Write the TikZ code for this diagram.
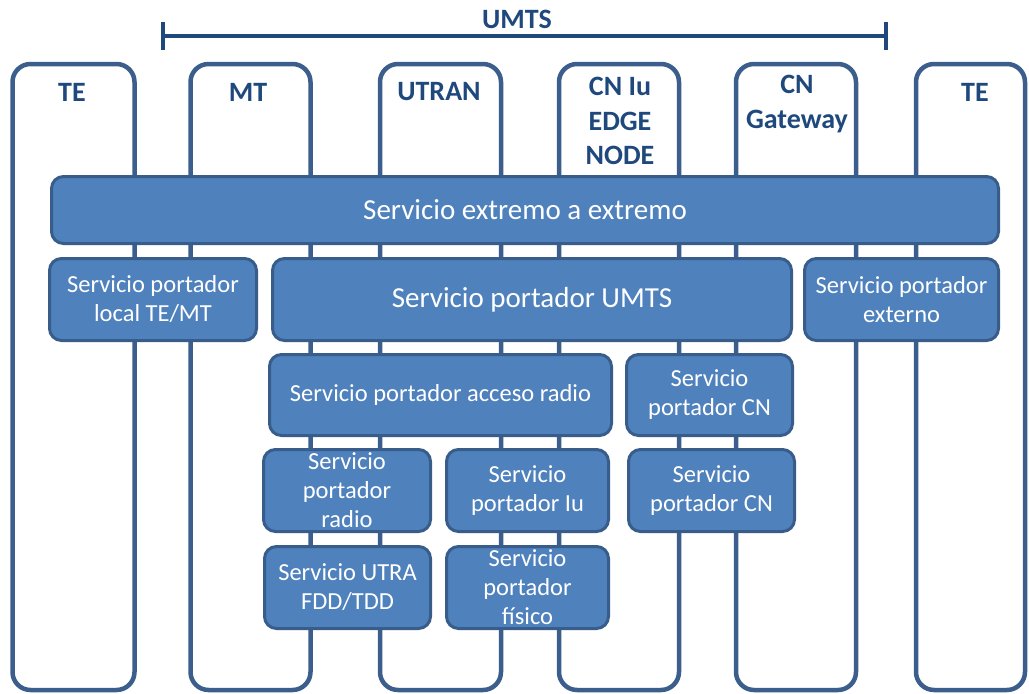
\documentclass[tikz,border=0pt]{standalone}
\usepackage{fontspec}
\setmainfont{Carlito}
\definecolor{boxfill}{HTML}{4F81BD}
\definecolor{boxline}{HTML}{385D8A}
\definecolor{colline}{HTML}{3B5E8C}
\definecolor{navy}{HTML}{1F497D}
\begin{document}
\begin{tikzpicture}[x=1pt,y=-1pt,
  column/.style={draw=colline, line width=4.5pt, rounded corners=18pt, fill=white, inner sep=0pt},
  hdr/.style={text=navy, font=\fontsize{28}{34.5}\selectfont\bfseries, align=center, inner sep=0pt},
  svc/.style={draw=boxline, line width=3pt, rounded corners=12pt, fill=boxfill, text=white, align=center, font=\fontsize{24.5}{29}\selectfont, inner sep=0pt},
  bigsvc/.style={svc, font=\fontsize{29}{32}\selectfont},
  bracket/.style={draw=navy, line width=4pt}
]
\useasboundingbox (0,0) rectangle (1029,694);

% columns
\node[column, minimum width=122pt, minimum height=626pt] (cte1) at (73.5,377) {};
\node[column, minimum width=120pt, minimum height=626pt] (cmt) at (250.5,377) {};
\node[column, minimum width=121pt, minimum height=626pt] (cutran) at (440.5,377) {};
\node[column, minimum width=120pt, minimum height=626pt] (ccn) at (619,377) {};
\node[column, minimum width=120pt, minimum height=626pt] (cgw) at (796,377) {};
\node[column, minimum width=109pt, minimum height=626pt] (cte2) at (970.5,377) {};

% headers
\node[hdr] (hte1) at (72,92) {TE};
\node[hdr] (hmt) at (248,92) {MT};
\node[hdr] (hutran) at (439,92) {UTRAN};
\node[hdr] (hcn) at (620,121) {CN Iu\\EDGE\\NODE};
\node[hdr] (hgw) at (797,104) {CN\\Gateway};
\node[hdr] (hte2) at (975,92) {TE};

% UMTS bracket
\coordinate (bl) at (163,36);
\coordinate (br) at (886,36);
\coordinate (blt) at (163,22);
\coordinate (blb) at (163,50);
\coordinate (brt) at (886,22);
\coordinate (brb) at (886,50);
\draw[bracket] (bl) -- (br);
\draw[bracket] (blt) -- (blb);
\draw[bracket] (brt) -- (brb);
\node[hdr] (umts) at (517,19) {UMTS};

% service boxes
\node[bigsvc, minimum width=947pt, minimum height=67pt] (e2e) at (525,210) {Servicio extremo a extremo};
\node[svc, minimum width=207pt, minimum height=82pt] (local) at (153,299.5) {Servicio portador\\local TE/MT};
\node[bigsvc, minimum width=519pt, minimum height=82pt] (umtsb) at (532,299.5) {Servicio portador UMTS};
\node[svc, minimum width=194pt, minimum height=82pt] (ext) at (901.5,299.5) {Servicio portador\\externo};
\node[svc, minimum width=342pt, minimum height=81pt] (acc) at (440.5,395) {Servicio portador acceso radio};
\node[svc, minimum width=166pt, minimum height=81pt] (cn1) at (709.5,395) {Servicio\\portador CN};
\node[svc, minimum width=167pt, minimum height=82pt] (radio) at (347,490.5) {Servicio\\portador\\radio};
\node[svc, minimum width=162pt, minimum height=82pt] (iu) at (527.5,490.5) {Servicio\\portador Iu};
\node[svc, minimum width=166pt, minimum height=82pt] (cn2) at (711.5,490.5) {Servicio\\portador CN};
\node[svc, minimum width=166pt, minimum height=82pt] (utra) at (347.5,587.5) {Servicio UTRA\\FDD/TDD};
\node[svc, minimum width=162pt, minimum height=82pt] (fis) at (527.5,587.5) {Servicio\\portador\\físico};
\end{tikzpicture}
\end{document}
